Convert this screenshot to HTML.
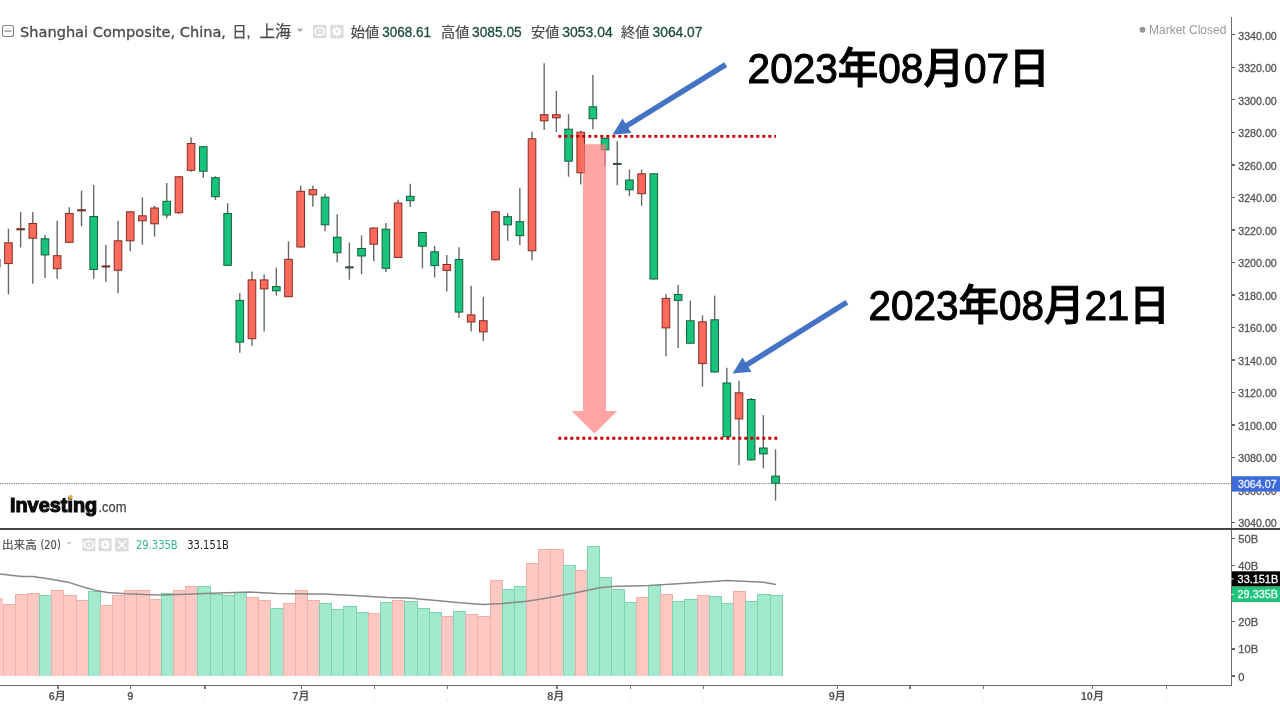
<!DOCTYPE html><html><head><meta charset="utf-8"><title>Shanghai Composite</title><style>
html,body{margin:0;padding:0;background:#fff;width:1280px;height:720px;overflow:hidden}
svg{position:absolute;left:0;top:0;display:block;will-change:transform}
.s{font-family:"Liberation Sans","Noto Sans CJK JP",sans-serif}
.t{font-family:"DejaVu Sans","Noto Sans CJK JP",sans-serif}
.j{font-family:"Liberation Sans","Noto Sans CJK JP",sans-serif}
</style></head><body>
<svg width="1280" height="720" viewBox="0 0 1280 720">
<rect x="0" y="0" width="1280" height="720" fill="#fff"/>
<g shape-rendering="crispEdges">
<rect x="0" y="597.6" width="2.9" height="78.4" fill="#ffc8c3"/>
<rect x="3.05" y="604.8" width="12.18" height="72.2" fill="#ffc8c3" stroke="#efb0aa" stroke-width="1"/>
<rect x="15.23" y="594.6" width="12.18" height="82.4" fill="#ffc8c3" stroke="#efb0aa" stroke-width="1"/>
<rect x="27.40" y="593.5" width="12.18" height="83.5" fill="#ffc8c3" stroke="#efb0aa" stroke-width="1"/>
<rect x="39.58" y="595.8" width="12.18" height="81.2" fill="#a3e9cd" stroke="#7cd4b0" stroke-width="1"/>
<rect x="51.75" y="590.4" width="12.18" height="86.6" fill="#ffc8c3" stroke="#efb0aa" stroke-width="1"/>
<rect x="63.93" y="595.5" width="12.18" height="81.5" fill="#ffc8c3" stroke="#efb0aa" stroke-width="1"/>
<rect x="76.11" y="600.3" width="12.18" height="76.7" fill="#ffc8c3" stroke="#efb0aa" stroke-width="1"/>
<rect x="88.28" y="591.3" width="12.18" height="85.7" fill="#a3e9cd" stroke="#7cd4b0" stroke-width="1"/>
<rect x="100.46" y="605.7" width="12.18" height="71.3" fill="#ffc8c3" stroke="#efb0aa" stroke-width="1"/>
<rect x="112.63" y="595.5" width="12.18" height="81.5" fill="#ffc8c3" stroke="#efb0aa" stroke-width="1"/>
<rect x="124.81" y="590.4" width="12.18" height="86.6" fill="#ffc8c3" stroke="#efb0aa" stroke-width="1"/>
<rect x="136.99" y="590.4" width="12.18" height="86.6" fill="#ffc8c3" stroke="#efb0aa" stroke-width="1"/>
<rect x="149.16" y="599.1" width="12.18" height="77.9" fill="#ffc8c3" stroke="#efb0aa" stroke-width="1"/>
<rect x="161.34" y="593.5" width="12.18" height="83.5" fill="#a3e9cd" stroke="#7cd4b0" stroke-width="1"/>
<rect x="173.51" y="590.4" width="12.18" height="86.6" fill="#ffc8c3" stroke="#efb0aa" stroke-width="1"/>
<rect x="185.69" y="586.8" width="12.18" height="90.2" fill="#ffc8c3" stroke="#efb0aa" stroke-width="1"/>
<rect x="197.87" y="586.8" width="12.18" height="90.2" fill="#a3e9cd" stroke="#7cd4b0" stroke-width="1"/>
<rect x="210.04" y="594.9" width="12.18" height="82.1" fill="#a3e9cd" stroke="#7cd4b0" stroke-width="1"/>
<rect x="222.22" y="595.5" width="12.18" height="81.5" fill="#a3e9cd" stroke="#7cd4b0" stroke-width="1"/>
<rect x="234.39" y="592.2" width="12.18" height="84.8" fill="#a3e9cd" stroke="#7cd4b0" stroke-width="1"/>
<rect x="246.57" y="597.6" width="12.18" height="79.4" fill="#ffc8c3" stroke="#efb0aa" stroke-width="1"/>
<rect x="258.75" y="600.3" width="12.18" height="76.7" fill="#ffc8c3" stroke="#efb0aa" stroke-width="1"/>
<rect x="270.92" y="608.1" width="12.18" height="68.9" fill="#a3e9cd" stroke="#7cd4b0" stroke-width="1"/>
<rect x="283.10" y="603.4" width="12.18" height="73.6" fill="#ffc8c3" stroke="#efb0aa" stroke-width="1"/>
<rect x="295.27" y="590.4" width="12.18" height="86.6" fill="#ffc8c3" stroke="#efb0aa" stroke-width="1"/>
<rect x="307.45" y="600.3" width="12.18" height="76.7" fill="#ffc8c3" stroke="#efb0aa" stroke-width="1"/>
<rect x="319.63" y="603.9" width="12.18" height="73.1" fill="#a3e9cd" stroke="#7cd4b0" stroke-width="1"/>
<rect x="331.80" y="609.0" width="12.18" height="68.0" fill="#a3e9cd" stroke="#7cd4b0" stroke-width="1"/>
<rect x="343.98" y="606.1" width="12.18" height="70.9" fill="#a3e9cd" stroke="#7cd4b0" stroke-width="1"/>
<rect x="356.15" y="612.1" width="12.18" height="64.9" fill="#a3e9cd" stroke="#7cd4b0" stroke-width="1"/>
<rect x="368.33" y="613.9" width="12.18" height="63.1" fill="#ffc8c3" stroke="#efb0aa" stroke-width="1"/>
<rect x="380.51" y="602.5" width="12.18" height="74.5" fill="#a3e9cd" stroke="#7cd4b0" stroke-width="1"/>
<rect x="392.68" y="600.3" width="12.18" height="76.7" fill="#ffc8c3" stroke="#efb0aa" stroke-width="1"/>
<rect x="404.86" y="601.8" width="12.18" height="75.2" fill="#a3e9cd" stroke="#7cd4b0" stroke-width="1"/>
<rect x="417.03" y="608.1" width="12.18" height="68.9" fill="#a3e9cd" stroke="#7cd4b0" stroke-width="1"/>
<rect x="429.21" y="612.1" width="12.18" height="64.9" fill="#a3e9cd" stroke="#7cd4b0" stroke-width="1"/>
<rect x="441.39" y="616.7" width="12.18" height="60.3" fill="#ffc8c3" stroke="#efb0aa" stroke-width="1"/>
<rect x="453.56" y="611.1" width="12.18" height="65.9" fill="#a3e9cd" stroke="#7cd4b0" stroke-width="1"/>
<rect x="465.74" y="614.9" width="12.18" height="62.1" fill="#ffc8c3" stroke="#efb0aa" stroke-width="1"/>
<rect x="477.91" y="616.8" width="12.18" height="60.2" fill="#ffc8c3" stroke="#efb0aa" stroke-width="1"/>
<rect x="490.09" y="580.8" width="12.18" height="96.2" fill="#ffc8c3" stroke="#efb0aa" stroke-width="1"/>
<rect x="502.27" y="589.8" width="12.18" height="87.2" fill="#a3e9cd" stroke="#7cd4b0" stroke-width="1"/>
<rect x="514.44" y="586.7" width="12.18" height="90.3" fill="#a3e9cd" stroke="#7cd4b0" stroke-width="1"/>
<rect x="526.62" y="563.5" width="12.18" height="113.5" fill="#ffc8c3" stroke="#efb0aa" stroke-width="1"/>
<rect x="538.79" y="549.7" width="12.18" height="127.3" fill="#ffc8c3" stroke="#efb0aa" stroke-width="1"/>
<rect x="550.97" y="549.7" width="12.18" height="127.3" fill="#ffc8c3" stroke="#efb0aa" stroke-width="1"/>
<rect x="563.15" y="565.5" width="12.18" height="111.5" fill="#a3e9cd" stroke="#7cd4b0" stroke-width="1"/>
<rect x="575.32" y="570.1" width="12.18" height="106.9" fill="#ffc8c3" stroke="#efb0aa" stroke-width="1"/>
<rect x="587.50" y="546.8" width="12.18" height="130.2" fill="#a3e9cd" stroke="#7cd4b0" stroke-width="1"/>
<rect x="599.67" y="577.0" width="12.18" height="100.0" fill="#a3e9cd" stroke="#7cd4b0" stroke-width="1"/>
<rect x="611.85" y="589.8" width="12.18" height="87.2" fill="#a3e9cd" stroke="#7cd4b0" stroke-width="1"/>
<rect x="624.03" y="602.8" width="12.18" height="74.2" fill="#a3e9cd" stroke="#7cd4b0" stroke-width="1"/>
<rect x="636.20" y="597.4" width="12.18" height="79.6" fill="#ffc8c3" stroke="#efb0aa" stroke-width="1"/>
<rect x="648.38" y="585.7" width="12.18" height="91.3" fill="#a3e9cd" stroke="#7cd4b0" stroke-width="1"/>
<rect x="660.55" y="594.7" width="12.18" height="82.3" fill="#ffc8c3" stroke="#efb0aa" stroke-width="1"/>
<rect x="672.73" y="601.9" width="12.18" height="75.1" fill="#a3e9cd" stroke="#7cd4b0" stroke-width="1"/>
<rect x="684.91" y="599.3" width="12.18" height="77.7" fill="#a3e9cd" stroke="#7cd4b0" stroke-width="1"/>
<rect x="697.08" y="595.6" width="12.18" height="81.4" fill="#ffc8c3" stroke="#efb0aa" stroke-width="1"/>
<rect x="709.26" y="596.0" width="12.18" height="81.0" fill="#a3e9cd" stroke="#7cd4b0" stroke-width="1"/>
<rect x="721.43" y="603.4" width="12.18" height="73.6" fill="#a3e9cd" stroke="#7cd4b0" stroke-width="1"/>
<rect x="733.61" y="591.6" width="12.18" height="85.4" fill="#ffc8c3" stroke="#efb0aa" stroke-width="1"/>
<rect x="745.79" y="601.9" width="12.18" height="75.1" fill="#a3e9cd" stroke="#7cd4b0" stroke-width="1"/>
<rect x="757.96" y="594.7" width="12.18" height="82.3" fill="#a3e9cd" stroke="#7cd4b0" stroke-width="1"/>
<rect x="770.14" y="595.6" width="12.18" height="81.4" fill="#a3e9cd" stroke="#7cd4b0" stroke-width="1"/>
</g>
<rect x="0" y="676" width="1231" height="9" fill="#fff"/>
<polyline points="0.0,574.1 21.7,576.4 32.5,576.6 50.0,579.0 69.5,582.6 85.0,587.5 95.7,590.4 108.0,592.4 126.0,593.8 144.4,594.6 160.0,594.9 186.0,594.2 204.0,593.4 234.9,592.5 251.0,592.1 276.4,593.6 310.0,594.1 323.5,594.0 354.0,595.6 386.7,597.6 408.0,597.9 433.6,600.3 460.0,602.8 483.0,604.4 502.5,603.4 526.8,601.2 547.2,597.9 574.4,592.9 599.7,587.8 612.6,586.4 648.6,585.5 677.8,583.8 708.9,581.8 727.4,580.5 747.8,581.6 763.4,582.3 776.0,584.6" fill="none" stroke="#888" stroke-width="1.5" stroke-linejoin="round"/>
<line x1="0" y1="483.6" x2="1231" y2="483.6" stroke="#6f7a96" stroke-width="1" stroke-dasharray="1.3,1"/>
<g>
<rect x="0" y="259" width="1" height="8.4" fill="#999"/>
<line x1="8.45" y1="228.7" x2="8.45" y2="294.5" stroke="#626c68" stroke-width="1.4"/>
<rect x="4.65" y="242.8" width="7.6" height="20.8" fill="#fc6a5b" stroke="#852d25" stroke-width="1"/>
<line x1="20.63" y1="212.0" x2="20.63" y2="247.5" stroke="#626c68" stroke-width="1.4"/>
<rect x="16.33" y="228.2" width="8.6" height="2.1" fill="#7a2e25"/>
<line x1="32.80" y1="212.0" x2="32.80" y2="283.7" stroke="#626c68" stroke-width="1.4"/>
<rect x="29.00" y="223.5" width="7.6" height="14.7" fill="#fc6a5b" stroke="#852d25" stroke-width="1"/>
<line x1="44.98" y1="235.0" x2="44.98" y2="278.0" stroke="#626c68" stroke-width="1.4"/>
<rect x="41.18" y="238.8" width="7.6" height="16.2" fill="#18c47c" stroke="#16603d" stroke-width="1"/>
<line x1="57.15" y1="220.8" x2="57.15" y2="278.7" stroke="#626c68" stroke-width="1.4"/>
<rect x="53.35" y="255.7" width="7.6" height="13.0" fill="#fc6a5b" stroke="#852d25" stroke-width="1"/>
<line x1="69.33" y1="207.2" x2="69.33" y2="242.8" stroke="#626c68" stroke-width="1.4"/>
<rect x="65.53" y="213.5" width="7.6" height="28.8" fill="#fc6a5b" stroke="#852d25" stroke-width="1"/>
<line x1="81.51" y1="190.5" x2="81.51" y2="226.3" stroke="#626c68" stroke-width="1.4"/>
<rect x="77.21" y="209.2" width="8.6" height="2.1" fill="#7a2e25"/>
<line x1="93.68" y1="185.0" x2="93.68" y2="278.7" stroke="#626c68" stroke-width="1.4"/>
<rect x="89.88" y="216.5" width="7.6" height="53.0" fill="#18c47c" stroke="#16603d" stroke-width="1"/>
<line x1="105.86" y1="245.0" x2="105.86" y2="281.7" stroke="#626c68" stroke-width="1.4"/>
<rect x="101.56" y="265.4" width="8.6" height="2.1" fill="#7a2e25"/>
<line x1="118.03" y1="220.8" x2="118.03" y2="293.3" stroke="#626c68" stroke-width="1.4"/>
<rect x="114.23" y="240.8" width="7.6" height="29.5" fill="#fc6a5b" stroke="#852d25" stroke-width="1"/>
<line x1="130.21" y1="211.3" x2="130.21" y2="251.3" stroke="#626c68" stroke-width="1.4"/>
<rect x="126.41" y="211.8" width="7.6" height="29.0" fill="#fc6a5b" stroke="#852d25" stroke-width="1"/>
<line x1="142.39" y1="197.5" x2="142.39" y2="244.7" stroke="#626c68" stroke-width="1.4"/>
<rect x="138.59" y="215.8" width="7.6" height="5.0" fill="#fc6a5b" stroke="#852d25" stroke-width="1"/>
<line x1="154.56" y1="205.8" x2="154.56" y2="236.7" stroke="#626c68" stroke-width="1.4"/>
<rect x="150.76" y="208.0" width="7.6" height="15.8" fill="#fc6a5b" stroke="#852d25" stroke-width="1"/>
<line x1="166.74" y1="183.0" x2="166.74" y2="218.3" stroke="#626c68" stroke-width="1.4"/>
<rect x="162.94" y="201.3" width="7.6" height="13.7" fill="#18c47c" stroke="#16603d" stroke-width="1"/>
<line x1="178.91" y1="176.3" x2="178.91" y2="214.0" stroke="#626c68" stroke-width="1.4"/>
<rect x="175.11" y="176.8" width="7.6" height="36.0" fill="#fc6a5b" stroke="#852d25" stroke-width="1"/>
<line x1="191.09" y1="137.2" x2="191.09" y2="171.7" stroke="#626c68" stroke-width="1.4"/>
<rect x="187.29" y="143.5" width="7.6" height="26.8" fill="#fc6a5b" stroke="#852d25" stroke-width="1"/>
<line x1="203.27" y1="146.2" x2="203.27" y2="177.8" stroke="#626c68" stroke-width="1.4"/>
<rect x="199.47" y="146.7" width="7.6" height="24.5" fill="#18c47c" stroke="#16603d" stroke-width="1"/>
<line x1="215.44" y1="176.3" x2="215.44" y2="200.0" stroke="#626c68" stroke-width="1.4"/>
<rect x="211.64" y="177.7" width="7.6" height="19.0" fill="#18c47c" stroke="#16603d" stroke-width="1"/>
<line x1="227.62" y1="203.3" x2="227.62" y2="265.8" stroke="#626c68" stroke-width="1.4"/>
<rect x="223.82" y="213.5" width="7.6" height="51.8" fill="#18c47c" stroke="#16603d" stroke-width="1"/>
<line x1="239.79" y1="292.9" x2="239.79" y2="352.8" stroke="#626c68" stroke-width="1.4"/>
<rect x="235.99" y="300.4" width="7.6" height="41.7" fill="#18c47c" stroke="#16603d" stroke-width="1"/>
<line x1="251.97" y1="271.4" x2="251.97" y2="345.8" stroke="#626c68" stroke-width="1.4"/>
<rect x="248.17" y="279.9" width="7.6" height="58.8" fill="#fc6a5b" stroke="#852d25" stroke-width="1"/>
<line x1="264.15" y1="274.3" x2="264.15" y2="331.5" stroke="#626c68" stroke-width="1.4"/>
<rect x="260.35" y="279.9" width="7.6" height="9.0" fill="#fc6a5b" stroke="#852d25" stroke-width="1"/>
<line x1="276.32" y1="267.6" x2="276.32" y2="295.4" stroke="#626c68" stroke-width="1.4"/>
<rect x="272.52" y="286.6" width="7.6" height="4.2" fill="#18c47c" stroke="#16603d" stroke-width="1"/>
<line x1="288.50" y1="241.3" x2="288.50" y2="297.2" stroke="#626c68" stroke-width="1.4"/>
<rect x="284.70" y="259.3" width="7.6" height="37.4" fill="#fc6a5b" stroke="#852d25" stroke-width="1"/>
<line x1="300.67" y1="185.8" x2="300.67" y2="247.5" stroke="#626c68" stroke-width="1.4"/>
<rect x="296.87" y="191.3" width="7.6" height="55.7" fill="#fc6a5b" stroke="#852d25" stroke-width="1"/>
<line x1="312.85" y1="185.8" x2="312.85" y2="206.7" stroke="#626c68" stroke-width="1.4"/>
<rect x="309.05" y="189.7" width="7.6" height="5.1" fill="#fc6a5b" stroke="#852d25" stroke-width="1"/>
<line x1="325.03" y1="193.7" x2="325.03" y2="231.3" stroke="#626c68" stroke-width="1.4"/>
<rect x="321.23" y="197.2" width="7.6" height="27.6" fill="#18c47c" stroke="#16603d" stroke-width="1"/>
<line x1="337.20" y1="214.2" x2="337.20" y2="262.2" stroke="#626c68" stroke-width="1.4"/>
<rect x="333.40" y="237.2" width="7.6" height="15.6" fill="#18c47c" stroke="#16603d" stroke-width="1"/>
<line x1="349.38" y1="242.5" x2="349.38" y2="279.7" stroke="#626c68" stroke-width="1.4"/>
<rect x="345.08" y="266.3" width="8.6" height="2.1" fill="#3d4a44"/>
<line x1="361.55" y1="235.5" x2="361.55" y2="274.2" stroke="#626c68" stroke-width="1.4"/>
<rect x="357.75" y="248.5" width="7.6" height="7.5" fill="#18c47c" stroke="#16603d" stroke-width="1"/>
<line x1="373.73" y1="227.5" x2="373.73" y2="261.3" stroke="#626c68" stroke-width="1.4"/>
<rect x="369.93" y="228.0" width="7.6" height="16.2" fill="#fc6a5b" stroke="#852d25" stroke-width="1"/>
<line x1="385.91" y1="223.0" x2="385.91" y2="272.0" stroke="#626c68" stroke-width="1.4"/>
<rect x="382.11" y="229.2" width="7.6" height="39.1" fill="#18c47c" stroke="#16603d" stroke-width="1"/>
<line x1="398.08" y1="199.7" x2="398.08" y2="258.0" stroke="#626c68" stroke-width="1.4"/>
<rect x="394.28" y="203.0" width="7.6" height="54.5" fill="#fc6a5b" stroke="#852d25" stroke-width="1"/>
<line x1="410.26" y1="183.8" x2="410.26" y2="207.0" stroke="#626c68" stroke-width="1.4"/>
<rect x="406.46" y="196.3" width="7.6" height="4.4" fill="#18c47c" stroke="#16603d" stroke-width="1"/>
<line x1="422.43" y1="232.0" x2="422.43" y2="268.3" stroke="#626c68" stroke-width="1.4"/>
<rect x="418.63" y="232.5" width="7.6" height="13.7" fill="#18c47c" stroke="#16603d" stroke-width="1"/>
<line x1="434.61" y1="245.8" x2="434.61" y2="277.5" stroke="#626c68" stroke-width="1.4"/>
<rect x="430.81" y="251.8" width="7.6" height="13.8" fill="#18c47c" stroke="#16603d" stroke-width="1"/>
<line x1="446.79" y1="255.0" x2="446.79" y2="291.6" stroke="#626c68" stroke-width="1.4"/>
<rect x="442.99" y="264.5" width="7.6" height="5.9" fill="#fc6a5b" stroke="#852d25" stroke-width="1"/>
<line x1="458.96" y1="247.2" x2="458.96" y2="318.0" stroke="#626c68" stroke-width="1.4"/>
<rect x="455.16" y="259.5" width="7.6" height="52.6" fill="#18c47c" stroke="#16603d" stroke-width="1"/>
<line x1="471.14" y1="285.8" x2="471.14" y2="331.4" stroke="#626c68" stroke-width="1.4"/>
<rect x="467.34" y="314.9" width="7.6" height="7.1" fill="#fc6a5b" stroke="#852d25" stroke-width="1"/>
<line x1="483.31" y1="296.8" x2="483.31" y2="341.1" stroke="#626c68" stroke-width="1.4"/>
<rect x="479.51" y="320.7" width="7.6" height="11.2" fill="#fc6a5b" stroke="#852d25" stroke-width="1"/>
<line x1="495.49" y1="210.8" x2="495.49" y2="260.3" stroke="#626c68" stroke-width="1.4"/>
<rect x="491.69" y="211.8" width="7.6" height="48.0" fill="#fc6a5b" stroke="#852d25" stroke-width="1"/>
<line x1="507.67" y1="213.3" x2="507.67" y2="240.8" stroke="#626c68" stroke-width="1.4"/>
<rect x="503.87" y="216.7" width="7.6" height="8.1" fill="#18c47c" stroke="#16603d" stroke-width="1"/>
<line x1="519.84" y1="188.0" x2="519.84" y2="245.0" stroke="#626c68" stroke-width="1.4"/>
<rect x="516.04" y="221.7" width="7.6" height="14.0" fill="#18c47c" stroke="#16603d" stroke-width="1"/>
<line x1="532.02" y1="131.7" x2="532.02" y2="260.3" stroke="#626c68" stroke-width="1.4"/>
<rect x="528.22" y="138.8" width="7.6" height="112.0" fill="#fc6a5b" stroke="#852d25" stroke-width="1"/>
<line x1="544.19" y1="63.3" x2="544.19" y2="130.0" stroke="#626c68" stroke-width="1.4"/>
<rect x="540.39" y="114.7" width="7.6" height="6.1" fill="#fc6a5b" stroke="#852d25" stroke-width="1"/>
<line x1="556.37" y1="90.8" x2="556.37" y2="132.0" stroke="#626c68" stroke-width="1.4"/>
<rect x="552.57" y="114.7" width="7.6" height="3.1" fill="#fc6a5b" stroke="#852d25" stroke-width="1"/>
<line x1="568.55" y1="114.2" x2="568.55" y2="176.7" stroke="#626c68" stroke-width="1.4"/>
<rect x="564.75" y="129.2" width="7.6" height="32.0" fill="#18c47c" stroke="#16603d" stroke-width="1"/>
<line x1="580.72" y1="130.8" x2="580.72" y2="184.5" stroke="#626c68" stroke-width="1.4"/>
<rect x="576.92" y="132.2" width="7.6" height="40.6" fill="#fc6a5b" stroke="#852d25" stroke-width="1"/>
<line x1="592.90" y1="75.0" x2="592.90" y2="129.2" stroke="#626c68" stroke-width="1.4"/>
<rect x="589.10" y="106.8" width="7.6" height="11.9" fill="#18c47c" stroke="#16603d" stroke-width="1"/>
<line x1="605.07" y1="137.8" x2="605.07" y2="166.7" stroke="#626c68" stroke-width="1.4"/>
<rect x="601.27" y="138.3" width="7.6" height="11.5" fill="#18c47c" stroke="#16603d" stroke-width="1"/>
<line x1="617.25" y1="141.3" x2="617.25" y2="185.3" stroke="#626c68" stroke-width="1.4"/>
<rect x="612.95" y="162.9" width="8.6" height="2.1" fill="#3d4a44"/>
<line x1="629.43" y1="169.5" x2="629.43" y2="196.3" stroke="#626c68" stroke-width="1.4"/>
<rect x="625.63" y="180.0" width="7.6" height="9.8" fill="#18c47c" stroke="#16603d" stroke-width="1"/>
<line x1="641.60" y1="169.5" x2="641.60" y2="205.8" stroke="#626c68" stroke-width="1.4"/>
<rect x="637.80" y="173.8" width="7.6" height="19.9" fill="#fc6a5b" stroke="#852d25" stroke-width="1"/>
<line x1="653.78" y1="173.3" x2="653.78" y2="279.5" stroke="#626c68" stroke-width="1.4"/>
<rect x="649.98" y="173.8" width="7.6" height="105.2" fill="#18c47c" stroke="#16603d" stroke-width="1"/>
<line x1="665.95" y1="294.0" x2="665.95" y2="356.3" stroke="#626c68" stroke-width="1.4"/>
<rect x="662.15" y="298.4" width="7.6" height="29.5" fill="#fc6a5b" stroke="#852d25" stroke-width="1"/>
<line x1="678.13" y1="284.9" x2="678.13" y2="347.9" stroke="#626c68" stroke-width="1.4"/>
<rect x="674.33" y="294.5" width="7.6" height="5.9" fill="#18c47c" stroke="#16603d" stroke-width="1"/>
<line x1="690.31" y1="300.5" x2="690.31" y2="343.7" stroke="#626c68" stroke-width="1.4"/>
<rect x="686.51" y="320.8" width="7.6" height="22.4" fill="#18c47c" stroke="#16603d" stroke-width="1"/>
<line x1="702.48" y1="315.4" x2="702.48" y2="386.5" stroke="#626c68" stroke-width="1.4"/>
<rect x="698.68" y="321.8" width="7.6" height="41.8" fill="#fc6a5b" stroke="#852d25" stroke-width="1"/>
<line x1="714.66" y1="295.6" x2="714.66" y2="372.5" stroke="#626c68" stroke-width="1.4"/>
<rect x="710.86" y="319.8" width="7.6" height="52.2" fill="#18c47c" stroke="#16603d" stroke-width="1"/>
<line x1="726.83" y1="367.7" x2="726.83" y2="437.1" stroke="#626c68" stroke-width="1.4"/>
<rect x="723.03" y="383.0" width="7.6" height="53.6" fill="#18c47c" stroke="#16603d" stroke-width="1"/>
<line x1="739.01" y1="380.8" x2="739.01" y2="465.2" stroke="#626c68" stroke-width="1.4"/>
<rect x="735.21" y="392.8" width="7.6" height="26.1" fill="#fc6a5b" stroke="#852d25" stroke-width="1"/>
<line x1="751.19" y1="398.1" x2="751.19" y2="460.4" stroke="#626c68" stroke-width="1.4"/>
<rect x="747.39" y="399.5" width="7.6" height="60.4" fill="#18c47c" stroke="#16603d" stroke-width="1"/>
<line x1="763.36" y1="415.2" x2="763.36" y2="468.3" stroke="#626c68" stroke-width="1.4"/>
<rect x="759.56" y="448.0" width="7.6" height="5.9" fill="#18c47c" stroke="#16603d" stroke-width="1"/>
<line x1="775.54" y1="449.3" x2="775.54" y2="500.6" stroke="#626c68" stroke-width="1.4"/>
<rect x="771.74" y="476.1" width="7.6" height="7.1" fill="#18c47c" stroke="#16603d" stroke-width="1"/>
</g>
<line x1="558.3" y1="136.4" x2="776" y2="136.4" stroke="#cc0008" stroke-width="2.9" stroke-dasharray="3,3"/>
<line x1="558.3" y1="438.3" x2="778" y2="438.3" stroke="#cc0008" stroke-width="2.9" stroke-dasharray="3,3"/>
<polygon points="583,144.2 606,144.2 606,410.9 617.2,410.9 594.5,433.6 571.6,410.9 583,410.9" fill="#ff7b7b" fill-opacity="0.68"/>
<line x1="725.7" y1="64.6" x2="625.3" y2="126.8" stroke="#4472c4" stroke-width="5.4"/><polygon points="612.5,134.7 622.5,118.5 631.4,133.0" fill="#4472c4"/>
<line x1="846.9" y1="302.2" x2="745.3" y2="365.7" stroke="#4472c4" stroke-width="5.4"/><polygon points="732.6,373.6 742.5,357.4 751.5,371.8" fill="#4472c4"/>
<g shape-rendering="crispEdges">
<rect x="1230.8" y="17.2" width="1.5" height="669" fill="#6b6b6b"/>
<rect x="0" y="684.9" width="1232.3" height="1.5" fill="#6b6b6b"/>
<rect x="0" y="527.5" width="1280" height="2" fill="#444"/>
<rect x="1231" y="34.2" width="4" height="1.2" fill="#666"/>
<rect x="1231" y="66.7" width="4" height="1.2" fill="#666"/>
<rect x="1231" y="99.2" width="4" height="1.2" fill="#666"/>
<rect x="1231" y="131.7" width="4" height="1.2" fill="#666"/>
<rect x="1231" y="164.3" width="4" height="1.2" fill="#666"/>
<rect x="1231" y="196.8" width="4" height="1.2" fill="#666"/>
<rect x="1231" y="229.3" width="4" height="1.2" fill="#666"/>
<rect x="1231" y="261.8" width="4" height="1.2" fill="#666"/>
<rect x="1231" y="294.3" width="4" height="1.2" fill="#666"/>
<rect x="1231" y="326.8" width="4" height="1.2" fill="#666"/>
<rect x="1231" y="359.3" width="4" height="1.2" fill="#666"/>
<rect x="1231" y="391.9" width="4" height="1.2" fill="#666"/>
<rect x="1231" y="424.4" width="4" height="1.2" fill="#666"/>
<rect x="1231" y="456.9" width="4" height="1.2" fill="#666"/>
<rect x="1231" y="489.4" width="4" height="1.2" fill="#666"/>
<rect x="1231" y="521.9" width="4" height="1.2" fill="#666"/>
<rect x="1231" y="538.1" width="4" height="1.2" fill="#666"/>
<rect x="1231" y="565.0" width="4" height="1.2" fill="#666"/>
<rect x="1231" y="620.6" width="4" height="1.2" fill="#666"/>
<rect x="1231" y="648.4" width="4" height="1.2" fill="#666"/>
<rect x="1231" y="675.3" width="4" height="1.2" fill="#666"/>
<rect x="57.4" y="686" width="1.2" height="3" fill="#777"/>
<rect x="129.9" y="686" width="1.2" height="3" fill="#777"/>
<rect x="204.4" y="686" width="1.2" height="3" fill="#777"/>
<rect x="301.1" y="686" width="1.2" height="3" fill="#777"/>
<rect x="373.9" y="686" width="1.2" height="3" fill="#777"/>
<rect x="446.9" y="686" width="1.2" height="3" fill="#777"/>
<rect x="556.4" y="686" width="1.2" height="3" fill="#777"/>
<rect x="630.1" y="686" width="1.2" height="3" fill="#777"/>
<rect x="703.1" y="686" width="1.2" height="3" fill="#777"/>
<rect x="836.9" y="686" width="1.2" height="3" fill="#777"/>
<rect x="909.4" y="686" width="1.2" height="3" fill="#777"/>
<rect x="982.6" y="686" width="1.2" height="3" fill="#777"/>
<rect x="1091.9" y="686" width="1.2" height="3" fill="#777"/>
<rect x="1165.7" y="686" width="1.2" height="3" fill="#777"/>
</g>
<g class="s" font-size="11.2" fill="#555" stroke="#555" stroke-width="0.3">
<text x="1238.2" y="39.7" textLength="38.6" lengthAdjust="spacingAndGlyphs">3340.00</text>
<text x="1238.2" y="72.2" textLength="38.6" lengthAdjust="spacingAndGlyphs">3320.00</text>
<text x="1238.2" y="104.7" textLength="38.6" lengthAdjust="spacingAndGlyphs">3300.00</text>
<text x="1238.2" y="137.2" textLength="38.6" lengthAdjust="spacingAndGlyphs">3280.00</text>
<text x="1238.2" y="169.8" textLength="38.6" lengthAdjust="spacingAndGlyphs">3260.00</text>
<text x="1238.2" y="202.3" textLength="38.6" lengthAdjust="spacingAndGlyphs">3240.00</text>
<text x="1238.2" y="234.8" textLength="38.6" lengthAdjust="spacingAndGlyphs">3220.00</text>
<text x="1238.2" y="267.3" textLength="38.6" lengthAdjust="spacingAndGlyphs">3200.00</text>
<text x="1238.2" y="299.8" textLength="38.6" lengthAdjust="spacingAndGlyphs">3180.00</text>
<text x="1238.2" y="332.3" textLength="38.6" lengthAdjust="spacingAndGlyphs">3160.00</text>
<text x="1238.2" y="364.8" textLength="38.6" lengthAdjust="spacingAndGlyphs">3140.00</text>
<text x="1238.2" y="397.4" textLength="38.6" lengthAdjust="spacingAndGlyphs">3120.00</text>
<text x="1238.2" y="429.9" textLength="38.6" lengthAdjust="spacingAndGlyphs">3100.00</text>
<text x="1238.2" y="462.4" textLength="38.6" lengthAdjust="spacingAndGlyphs">3080.00</text>
<text x="1238.2" y="494.9" textLength="38.6" lengthAdjust="spacingAndGlyphs">3060.00</text>
<text x="1238.2" y="527.4" textLength="38.6" lengthAdjust="spacingAndGlyphs">3040.00</text>
</g>
<rect x="1232" y="476.2" width="48" height="15.4" fill="#3d6bdc"/>
<text class="s" x="1238" y="488.3" font-size="11.2" fill="#eef" stroke="#eef" stroke-width="0.3" textLength="38.6" lengthAdjust="spacingAndGlyphs">3064.07</text>
<g class="s" font-size="11.2" fill="#555" stroke="#555" stroke-width="0.3">
<text x="1238.2" y="543.0">50B</text>
<text x="1238.2" y="569.9">40B</text>
<text x="1238.2" y="625.5">20B</text>
<text x="1238.2" y="653.3">10B</text>
<text x="1238.2" y="680.7">0</text>
</g>
<rect x="1232" y="571.3" width="48" height="15.3" fill="#000"/><rect x="1231" y="578.5" width="3" height="1" fill="#ddd"/>
<text class="s" x="1237.6" y="583.2" font-size="11.2" fill="#fff" stroke="#fff" stroke-width="0.3" textLength="40.6" lengthAdjust="spacingAndGlyphs">33.151B</text>
<rect x="1232" y="586.6" width="48" height="15.4" fill="#1fc47c"/><rect x="1231" y="594" width="3" height="1" fill="#ddd"/>
<text class="s" x="1237.6" y="598.4" font-size="11.2" fill="#f0fff8" stroke="#f0fff8" stroke-width="0.3" textLength="40.4" lengthAdjust="spacingAndGlyphs">29.335B</text>
<g class="s" font-size="11" font-weight="bold" fill="#555" text-anchor="middle">
<text x="57.2" y="700">6月</text>
<text x="130.3" y="700">9</text>
<text x="300.9" y="700">7月</text>
<text x="555.8" y="700">8月</text>
<text x="837.2" y="700">9月</text>
<text x="1092.3" y="700">10月</text>
</g>
<rect x="204.5" y="698.5" width="1" height="1" fill="#ccc"/>
<rect x="374.0" y="698.5" width="1" height="1" fill="#ccc"/>
<rect x="447.0" y="698.5" width="1" height="1" fill="#ccc"/>
<rect x="630.2" y="698.5" width="1" height="1" fill="#ccc"/>
<rect x="703.2" y="698.5" width="1" height="1" fill="#ccc"/>
<rect x="909.5" y="698.5" width="1" height="1" fill="#ccc"/>
<rect x="982.8" y="698.5" width="1" height="1" fill="#ccc"/>
<rect x="1165.8" y="698.5" width="1" height="1" fill="#ccc"/>
<rect x="2.5" y="25.5" width="11" height="11" rx="2" fill="none" stroke="#888" stroke-width="1.2"/>
<rect x="4.5" y="30.5" width="7" height="1.2" fill="#888"/>
<text class="t" x="20.00" y="37.00" font-size="14.9" fill="#4a4a4a" textLength="206.00" lengthAdjust="spacingAndGlyphs" stroke="#4a4a4a" stroke-width="0.3">Shanghai Composite, China,</text>
<text class="s" x="232.20" y="37.00" font-size="14.4" fill="#4a4a4a" stroke="#4a4a4a" stroke-width="0.25">日,</text>
<text class="s" x="259.60" y="37.20" font-size="15.6" fill="#4a4a4a" stroke="#4a4a4a" stroke-width="0.25">上海</text>
<polygon points="296.8,28.7 303.4,28.7 300.1,31.9" fill="#a8a8a8"/>
<rect x="313" y="24.8" width="13.2" height="13.2" fill="#dcdcdc"/><ellipse cx="319.6" cy="31.4" rx="4.6" ry="3.7" fill="none" stroke="#fff" stroke-width="1.7"/><circle cx="319.6" cy="31.4" r="1.2" fill="#fff"/>
<rect x="330.2" y="24.8" width="13.4" height="13.4" fill="#dcdcdc"/><line x1="336.9" y1="31.5" x2="341.5" y2="31.5" stroke="#fff" stroke-width="2"/><line x1="336.9" y1="31.5" x2="340.2" y2="34.8" stroke="#fff" stroke-width="2"/><line x1="336.9" y1="31.5" x2="336.9" y2="36.1" stroke="#fff" stroke-width="2"/><line x1="336.9" y1="31.5" x2="333.6" y2="34.8" stroke="#fff" stroke-width="2"/><line x1="336.9" y1="31.5" x2="332.3" y2="31.5" stroke="#fff" stroke-width="2"/><line x1="336.9" y1="31.5" x2="333.6" y2="28.2" stroke="#fff" stroke-width="2"/><line x1="336.9" y1="31.5" x2="336.9" y2="26.9" stroke="#fff" stroke-width="2"/><line x1="336.9" y1="31.5" x2="340.2" y2="28.2" stroke="#fff" stroke-width="2"/><circle cx="336.9" cy="31.5" r="3.4" fill="#fff"/><circle cx="336.9" cy="31.5" r="1.4" fill="#dcdcdc"/>
<text class="s" x="350.70" y="37.00" font-size="14.2" fill="#4a4a4a" stroke="#4a4a4a" stroke-width="0.2">始値</text>
<text class="s" x="382.30" y="37.00" font-size="14.4" fill="#1d4d39" textLength="48.70" lengthAdjust="spacingAndGlyphs" stroke="#1d4d39" stroke-width="0.3">3068.61</text>
<text class="s" x="441.00" y="37.00" font-size="14.2" fill="#4a4a4a" stroke="#4a4a4a" stroke-width="0.2">高値</text>
<text class="s" x="472.10" y="37.00" font-size="14.4" fill="#1d4d39" textLength="49.60" lengthAdjust="spacingAndGlyphs" stroke="#1d4d39" stroke-width="0.3">3085.05</text>
<text class="s" x="531.00" y="37.00" font-size="14.2" fill="#4a4a4a" stroke="#4a4a4a" stroke-width="0.2">安値</text>
<text class="s" x="562.30" y="37.00" font-size="14.4" fill="#1d4d39" textLength="50.50" lengthAdjust="spacingAndGlyphs" stroke="#1d4d39" stroke-width="0.3">3053.04</text>
<text class="s" x="621.00" y="37.00" font-size="14.2" fill="#4a4a4a" stroke="#4a4a4a" stroke-width="0.2">終値</text>
<text class="s" x="652.50" y="37.00" font-size="14.4" fill="#1d4d39" textLength="50.00" lengthAdjust="spacingAndGlyphs" stroke="#1d4d39" stroke-width="0.3">3064.07</text>
<circle cx="1142.5" cy="29.8" r="3" fill="#999"/>
<text class="s" x="1149.00" y="34.00" font-size="12" fill="#999">Market Closed</text>
<text class="s" x="2.00" y="549.20" font-size="11.6" fill="#4d4d4d" stroke="#4d4d4d" stroke-width="0.2">出来高</text>
<text class="t" x="40.40" y="549.20" font-size="11.4" fill="#4d4d4d" textLength="20.40" lengthAdjust="spacingAndGlyphs" stroke="#4d4d4d" stroke-width="0.15">(20)</text>
<polygon points="66.3,542.3 72,542.3 69.15,544.8" fill="#c4c4c4"/>
<rect x="82.4" y="538.2" width="13" height="13" fill="#dcdcdc"/><ellipse cx="88.9" cy="544.7" rx="4.6" ry="3.7" fill="none" stroke="#fff" stroke-width="1.7"/><circle cx="88.9" cy="544.7" r="1.2" fill="#fff"/>
<rect x="98.6" y="538.2" width="13" height="13" fill="#dcdcdc"/><line x1="105.1" y1="544.7" x2="109.7" y2="544.7" stroke="#fff" stroke-width="2"/><line x1="105.1" y1="544.7" x2="108.4" y2="548.0" stroke="#fff" stroke-width="2"/><line x1="105.1" y1="544.7" x2="105.1" y2="549.3" stroke="#fff" stroke-width="2"/><line x1="105.1" y1="544.7" x2="101.8" y2="548.0" stroke="#fff" stroke-width="2"/><line x1="105.1" y1="544.7" x2="100.5" y2="544.7" stroke="#fff" stroke-width="2"/><line x1="105.1" y1="544.7" x2="101.8" y2="541.4" stroke="#fff" stroke-width="2"/><line x1="105.1" y1="544.7" x2="105.1" y2="540.1" stroke="#fff" stroke-width="2"/><line x1="105.1" y1="544.7" x2="108.4" y2="541.4" stroke="#fff" stroke-width="2"/><circle cx="105.1" cy="544.7" r="3.4" fill="#fff"/><circle cx="105.1" cy="544.7" r="1.4" fill="#dcdcdc"/>
<rect x="115.1" y="538.0" width="13.5" height="13.5" fill="#dcdcdc"/><line x1="117.6" y1="540.5" x2="126.1" y2="549.0" stroke="#fff" stroke-width="1.5"/><line x1="126.1" y1="540.5" x2="117.6" y2="549.0" stroke="#fff" stroke-width="1.5"/>
<text class="t" x="136.00" y="549.20" font-size="11.4" fill="#33b98a" textLength="41.60" lengthAdjust="spacingAndGlyphs">29.335B</text>
<text class="t" x="187.30" y="549.20" font-size="11.4" fill="#222" textLength="41.60" lengthAdjust="spacingAndGlyphs">33.151B</text>
<text class="s" x="9.90" y="512.10" font-size="19.8" fill="#0a0a0a" textLength="87.40" lengthAdjust="spacingAndGlyphs" font-weight="bold" stroke="#0a0a0a" stroke-width="1.1">Investing</text>
<text class="s" x="98.40" y="512.30" font-size="14.6" fill="#444" textLength="28.00" lengthAdjust="spacingAndGlyphs" stroke="#444" stroke-width="0.25">.com</text>
<circle cx="70.5" cy="497" r="2.1" fill="#eeb040"/>
<text class="j" x="747.60" y="82.60" font-size="41.6" fill="#000" textLength="302.00" lengthAdjust="spacingAndGlyphs" font-weight="500" stroke="#000" stroke-width="1.1">2023年08月07日</text>
<text class="j" x="868.60" y="319.60" font-size="41.6" fill="#000" textLength="301.20" lengthAdjust="spacingAndGlyphs" font-weight="500" stroke="#000" stroke-width="1.1">2023年08月21日</text>
</svg></body></html>
